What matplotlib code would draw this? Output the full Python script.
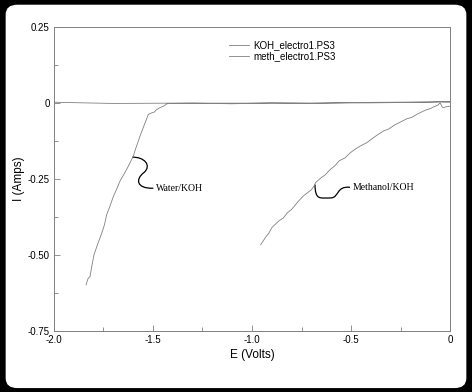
import matplotlib
matplotlib.use("Agg")
import matplotlib.pyplot as plt
from matplotlib.patches import FancyBboxPatch, PathPatch
from matplotlib.path import Path

plt.rcParams['font.family'] = ['Liberation Sans', 'DejaVu Sans']
plt.rcParams['axes.unicode_minus'] = False

# KOH_electro1.PS3 : forward sweep, then the return sweep along zero
koh_e = [-1.838, -1.832, -1.827, -1.818, -1.810, -1.798, -1.780, -1.759,
         -1.745, -1.734, -1.718, -1.700, -1.685, -1.667, -1.645, -1.625,
         -1.600, -1.585, -1.566, -1.552, -1.540, -1.530, -1.524, -1.507,
         -1.495, -1.481, -1.465, -1.448, -1.426, -1.30, -1.10, -0.90, -0.70,
         -0.50, -0.30, -0.10, -0.05, 0.0,
         -0.40, -0.90, -1.40, -1.70, -1.85, -2.0]
koh_i = [-0.598, -0.585, -0.576, -0.571, -0.540, -0.499, -0.465, -0.428,
         -0.400, -0.367, -0.340, -0.307, -0.285, -0.257, -0.232, -0.208,
         -0.175, -0.145, -0.109, -0.085, -0.065, -0.048, -0.037, -0.032,
         -0.030, -0.021, -0.015, -0.010, -0.001, 0.000, -0.002, 0.001, -0.001,
         0.002, 0.003, 0.004, 0.005, 0.004,
         0.001, 0.000, 0.000, -0.001, 0.001, 0.003]

# meth_electro1.PS3
meth_e = [-0.956, -0.930, -0.915, -0.900, -0.867, -0.842, -0.820, -0.800,
          -0.766, -0.740, -0.720, -0.700, -0.682, -0.680, -0.650, -0.630,
          -0.606, -0.580, -0.560, -0.530, -0.505, -0.480, -0.450, -0.420,
          -0.400, -0.370, -0.337, -0.310, -0.280, -0.250, -0.220, -0.190,
          -0.168, -0.140, -0.120, -0.100, -0.084, -0.060, -0.050, -0.040,
          -0.033, -0.020, 0.0]
meth_i = [-0.466, -0.440, -0.428, -0.410, -0.389, -0.378, -0.360, -0.350,
          -0.323, -0.305, -0.295, -0.285, -0.268, -0.262, -0.245, -0.236,
          -0.219, -0.205, -0.190, -0.180, -0.164, -0.152, -0.140, -0.130,
          -0.120, -0.106, -0.092, -0.085, -0.072, -0.062, -0.052, -0.046,
          -0.037, -0.028, -0.022, -0.018, -0.013, -0.006, 0.001, -0.012,
          -0.015, -0.012, -0.010]

x_ticks = [-2.0, -1.5, -1.0, -0.5, 0.0]
x_labels = ['-2.0', '-1.5', '-1.0', '-0.5', '0']
y_ticks = [0.25, 0.0, -0.25, -0.50, -0.75]
y_labels = ['0.25', '0', '-0.25', '-0.50', '-0.75']

fig = plt.figure(figsize=(4.72, 3.92), dpi=100)
fig.patch.set_facecolor('black')
card = FancyBboxPatch((0.012, 0.01), 0.976, 0.978,
                      boxstyle='round,pad=0,rounding_size=0.025',
                      transform=fig.transFigure, facecolor='white',
                      edgecolor='none', zorder=-10)
fig.add_artist(card)

ax = fig.add_axes([0.1144, 0.1556, 0.839, 0.775])
ax.set_facecolor('none')
ax.set_zorder(5)
gray = '#808080'
ax.plot(koh_e, koh_i, color=gray, lw=0.6, label='KOH_electro1.PS3')
ax.plot(meth_e, meth_i, color=gray, lw=0.6, label='meth_electro1.PS3')

ax.set_xlim(-2.0, 0.0)
ax.set_ylim(-0.75, 0.25)
ax.set_xticks(x_ticks)
ax.set_xticklabels(x_labels)
ax.set_yticks(y_ticks)
ax.set_yticklabels(y_labels)
ax.set_xticks([-1.75, -1.25, -0.75, -0.25], minor=True)
ax.set_yticks([0.125, -0.125, -0.375, -0.625], minor=True)
ax.tick_params(which='both', direction='in', color=gray, width=0.6)
ax.tick_params(which='major', length=4, labelsize=7, pad=3)
ax.tick_params(which='minor', length=3)
for s in ax.spines.values():
    s.set_color(gray)
    s.set_linewidth(0.7)

ax.set_xlabel('E (Volts)', fontsize=8.5, labelpad=3)
ax.set_ylabel('I (Amps)', fontsize=8.5, labelpad=2)

ax.legend(loc='upper left', bbox_to_anchor=(0.42, 0.985), frameon=False,
          fontsize=7, handlelength=2.0, handletextpad=0.5, labelspacing=0.1)

# callout squiggles
water_path = Path([(-1.605, -0.178), (-1.545, -0.176), (-1.505, -0.205),
                   (-1.545, -0.228), (-1.590, -0.250), (-1.585, -0.282),
                   (-1.498, -0.280)],
                  [Path.MOVETO, Path.CURVE4, Path.CURVE4, Path.CURVE4,
                   Path.CURVE4, Path.CURVE4, Path.CURVE4])
meth_path = Path([(-0.682, -0.268), (-0.680, -0.320), (-0.660, -0.312),
                  (-0.600, -0.312), (-0.560, -0.310), (-0.575, -0.272),
                  (-0.505, -0.277)],
                 [Path.MOVETO, Path.CURVE4, Path.CURVE4, Path.CURVE4,
                  Path.CURVE4, Path.CURVE4, Path.CURVE4])
for p in (water_path, meth_path):
    ax.add_patch(PathPatch(p, facecolor='none', edgecolor='black', lw=0.9))

ax.text(-1.485, -0.280, 'Water/KOH', fontsize=7, va='center',
        family=['Liberation Serif', 'DejaVu Serif'])
ax.text(-0.490, -0.277, 'Methanol/KOH', fontsize=7, va='center',
        family=['Liberation Serif', 'DejaVu Serif'])

fig.savefig('out.png', dpi=100, facecolor=fig.get_facecolor())
